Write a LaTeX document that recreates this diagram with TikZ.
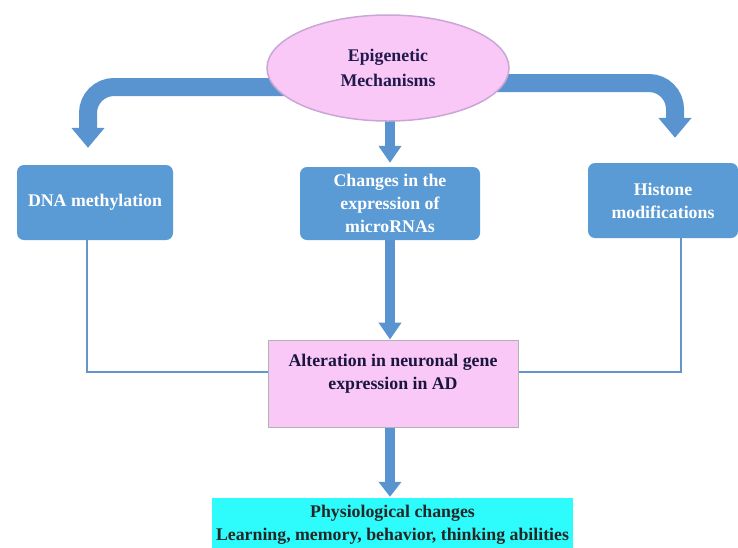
\documentclass[tikz,border=0pt]{standalone}
\usepackage{fontspec}
\setmainfont{Liberation Serif}
\usetikzlibrary{arrows.meta,shapes.geometric,backgrounds}
\definecolor{boxblue}{HTML}{5B9BD5}
\definecolor{arrblue}{HTML}{5A94D0}
\definecolor{lineblue}{HTML}{6495CC}
\definecolor{pinkfill}{HTML}{FAC8F7}
\definecolor{pinkdraw}{HTML}{C9A6D6}
\definecolor{navytext}{HTML}{201A4C}
\definecolor{cyanfill}{HTML}{2EFBFB}
\tikzset{
  txt/.style={font=\fontsize{17.8}{23}\selectfont\bfseries, align=center, inner sep=0pt},
  bluebox/.style={txt, rectangle, rounded corners=7pt, fill=boxblue, text=white},
  bigarrow/.style={draw=arrblue, line width=18pt, rounded corners=26pt,
     -{Triangle[length=20pt,width=32pt]}},
  midarrow/.style={draw=arrblue, line width=10pt,
     -{Triangle[length=17pt,width=22pt]}},
  thinline/.style={draw=lineblue, line width=2.4pt},
}
\begin{document}
\begin{tikzpicture}[x=1pt,y=-1pt]
\useasboundingbox (0,0) rectangle (738,547);
% nodes
\node[txt, font=\fontsize{17.8}{25}\selectfont\bfseries, ellipse, fill=pinkfill, draw=pinkdraw, line width=1.5pt, text=navytext,
      minimum width=242pt, minimum height=106pt] (ell) at (388,68) {Epigenetic\\Mechanisms};
\node[bluebox, minimum width=156pt, minimum height=75pt] (dna) at (95,202.5) {DNA methylation};
\node[bluebox, minimum width=180pt, minimum height=73pt] (mir) at (390,203.5) {Changes in the\\expression of\\microRNAs};
\node[bluebox, minimum width=150pt, minimum height=75pt] (his) at (663,200.5) {Histone\\modifications};
\node[txt, rectangle, fill=pinkfill, draw=gray!60, line width=1pt, text=navytext!80!black,
      minimum width=250pt, minimum height=87pt] (alt) at (393,383.5) {Alteration in neuronal gene\\expression in AD\\~};
\node[txt, rectangle, fill=cyanfill, text=black!85,
      minimum width=361pt, minimum height=53pt] (phys) at (392.5,524.5) {Physiological changes\\Learning, memory, behavior, thinking abilities};
% big arrows behind ellipse
\begin{scope}[on background layer]
\fill[white] (0,0) rectangle (738,547);
\draw[bigarrow] ([yshift=-19pt]ell.center) -| ([xshift=-7pt,yshift=17pt]dna.north);
\draw[bigarrow] ([yshift=-15pt]ell.center) -| ([xshift=12pt,yshift=25pt]his.north);
\draw[midarrow] (mir.north |- ell.center) -- ([yshift=4pt]mir.north);
\end{scope}
\draw[midarrow] (mir.south) -- (mir.south |- alt.north);
\draw[midarrow, -{Triangle[length=15pt,width=22pt]}] (mir.south |- alt.south) -- ([yshift=1pt]mir.south |- phys.north);
% thin connectors
\draw[thinline] ([xshift=-8pt]dna.south) |- ([yshift=11.5pt]alt.west);
\draw[thinline] ([xshift=18pt]his.south) |- ([yshift=11.5pt]alt.east);
\end{tikzpicture}
\end{document}
